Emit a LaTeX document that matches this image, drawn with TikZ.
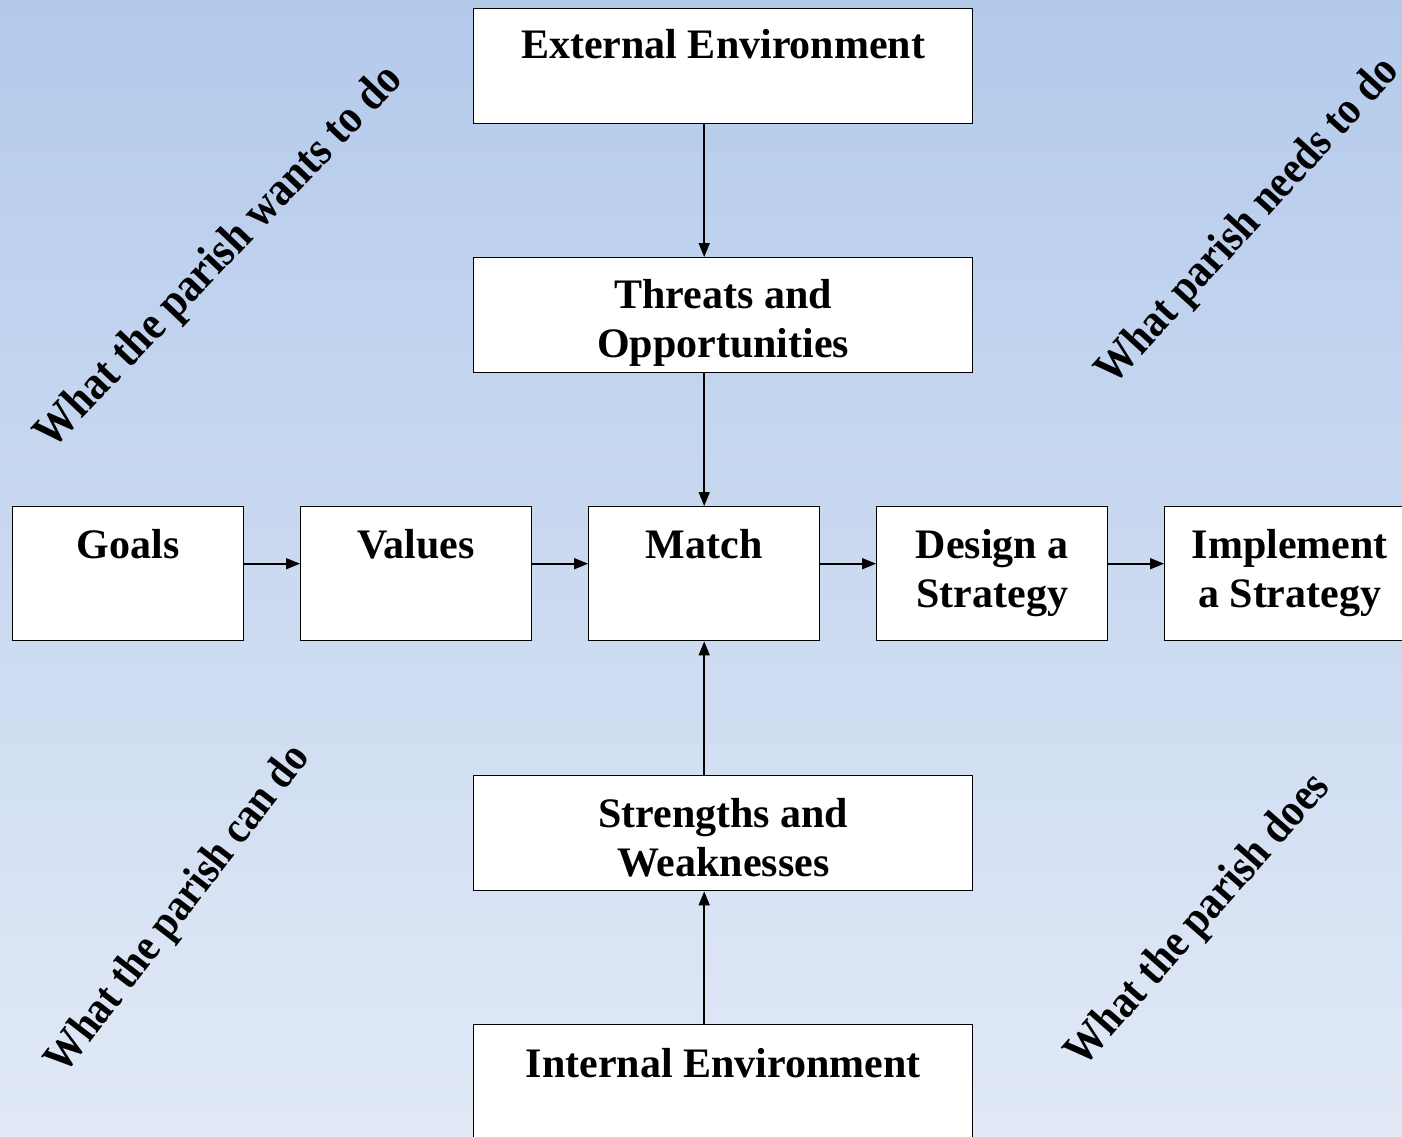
\documentclass[tikz,border=0pt]{standalone}
\usepackage{fontspec}
\usepackage{graphicx}
\setmainfont{Liberation Serif}
\usetikzlibrary{arrows.meta,calc}
\definecolor{bgtop}{RGB}{180,202,235}
\definecolor{bgbot}{RGB}{225,233,246}
\tikzset{
  box/.style={draw=black, line width=1.4pt, fill=white, inner sep=0pt, anchor=north west},
  bigbox/.style={box, minimum width=499pt, minimum height=115pt},
  smallbox/.style={box, minimum width=231pt, minimum height=134pt},
  lbl/.style={inner sep=0pt, anchor=base, font=\fontsize{42}{49}\selectfont\bfseries},
  diag/.style={inner sep=0pt, font=\fontsize{42}{49}\selectfont\bfseries},
  conn/.style={line width=1.6pt, -{Triangle[length=14pt,width=11pt]}}
}
\newcommand{\twoline}[2]{\setlength{\tabcolsep}{0pt}\begin{tabular}[t]{c}#1\\#2\end{tabular}}
\newcommand{\diagtext}[2]{\resizebox{#1}{!}{\scalebox{1}[1.12]{#2}}}
\begin{document}
\begin{tikzpicture}[x=1pt,y=-1pt]
\useasboundingbox (0,0) rectangle (1402,1136);
\shade[top color=bgtop, bottom color=bgbot] (0,0) rectangle (1402,1136);
\begin{scope}
\clip (0,0) rectangle (1402,1136);
% boxes
\node[bigbox] (ext) at (473,8) {};
\node[bigbox] (thr) at (473,257) {};
\node[smallbox] (goals) at (12,506) {};
\node[smallbox] (vals) at (300,506) {};
\node[smallbox] (match) at (588,506) {};
\node[smallbox] (design) at (876,506) {};
\node[smallbox, minimum width=250pt] (impl) at (1164,506) {};
\node[bigbox] (str) at (473,775) {};
\node[bigbox, minimum height=140pt] (int) at (473,1024) {};
% labels
\node[lbl] (ext-t) at ([yshift=-50pt]ext.north) {External Environment};
\node[lbl] (thr-t) at ([yshift=-51pt]thr.north) {\twoline{Threats and}{Opportunities}};
\node[lbl] (goals-t) at ([yshift=-52pt]goals.north) {Goals};
\node[lbl] (vals-t) at ([yshift=-52pt]vals.north) {Values};
\node[lbl] (match-t) at ([yshift=-52pt]match.north) {Match};
\node[lbl] (design-t) at ([yshift=-52pt]design.north) {\twoline{Design a}{Strategy}};
\node[lbl] (impl-t) at ([yshift=-52pt]impl.north) {\twoline{Implement}{a Strategy}};
\node[lbl] (str-t) at ([yshift=-52pt]str.north) {\twoline{Strengths and}{Weaknesses}};
\node[lbl] (int-t) at ([yshift=-53pt]int.north) {Internal Environment};
% connectors
\draw[conn] (ext.south -| match.north) -- (thr.north -| match.north);
\draw[conn] (thr.south -| match.north) -- (match.north);
\draw[conn] (str.north -| match.south) -- (match.south);
\draw[conn] (int.north -| match.south) -- (str.south -| match.south);
\draw[conn] ([yshift=10pt]goals.east) -- ([yshift=10pt]vals.west);
\draw[conn] ([yshift=10pt]vals.east) -- ([yshift=10pt]match.west);
\draw[conn] ([yshift=10pt]match.east) -- ([yshift=10pt]design.west);
\draw[conn] ([yshift=10pt]design.east) -- ([yshift=10pt]impl.west);
% diagonal texts
\node[diag, rotate=46.4] (wants) at (220,258) {\diagtext{510pt}{What the parish wants to do}};
\node[diag, rotate=47.6] (needs) at (1249,222) {\diagtext{425pt}{What parish needs to do}};
\node[diag, rotate=52.3] (can) at (179,910) {\diagtext{402pt}{What the parish can do}};
\node[diag, rotate=48.6] (does) at (1199,921) {\diagtext{374pt}{What the parish does}};
\end{scope}
\end{tikzpicture}
\end{document}
